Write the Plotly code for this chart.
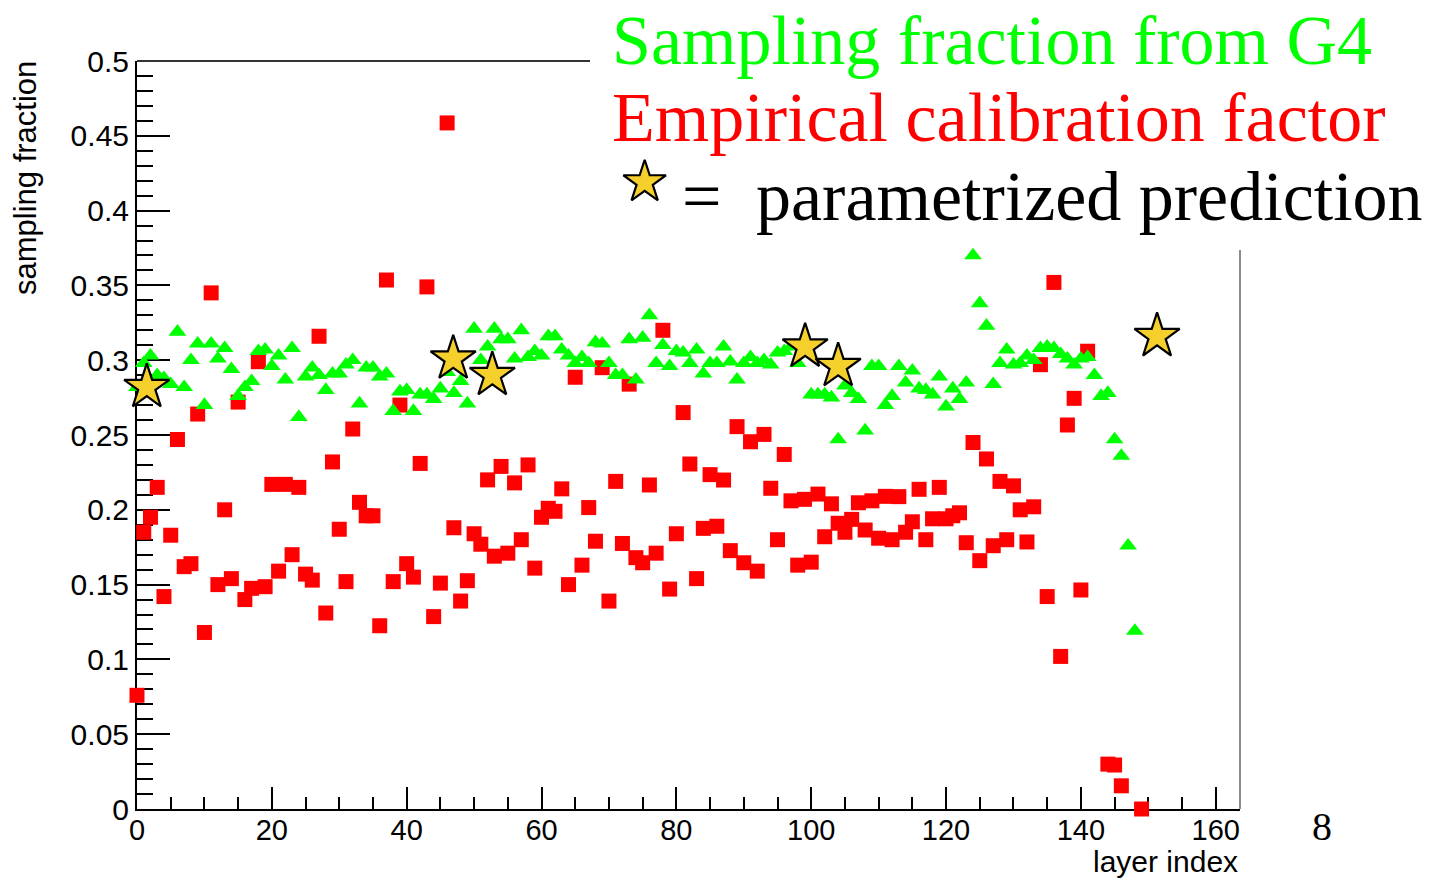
import plotly.graph_objects as go

# ---------------- data ----------------
g4_layers = list(range(0, 149))
g4_fraction = [
    0.282, 0.298, 0.303, 0.290, 0.288, 0.284, 0.319, 0.282, 0.300, 0.311,
    0.270, 0.311, 0.301, 0.308, 0.294, 0.276, 0.282, 0.286, 0.306, 0.307,
    0.296, 0.303, 0.287, 0.308, 0.262, 0.289, 0.295, 0.290, 0.280, 0.291,
    0.291, 0.297, 0.300, 0.271, 0.295, 0.295, 0.289, 0.291, 0.266, 0.279,
    0.280, 0.266, 0.277, 0.277, 0.274, 0.281, 0.292, 0.278, 0.286, 0.271,
    0.321, 0.300, 0.309, 0.321, 0.314, 0.314, 0.301, 0.320, 0.302, 0.306,
    0.303, 0.316, 0.316, 0.307, 0.303, 0.298, 0.302, 0.298, 0.312, 0.311,
    0.298, 0.290, 0.290, 0.314, 0.287, 0.315, 0.330, 0.298, 0.310, 0.296,
    0.306, 0.305, 0.298, 0.307, 0.291, 0.298, 0.298, 0.309, 0.299, 0.287,
    0.298, 0.302, 0.298, 0.300, 0.297, 0.305, 0.306, 0.309, 0.298, 0.305,
    0.277, 0.277, 0.277, 0.275, 0.247, 0.283, 0.278, 0.274, 0.253, 0.296,
    0.296, 0.270, 0.276, 0.296, 0.285, 0.293, 0.281, 0.280, 0.277, 0.289,
    0.269, 0.281, 0.274, 0.285, 0.370, 0.338, 0.323, 0.284, 0.298, 0.307,
    0.297, 0.298, 0.303, 0.300, 0.308, 0.309, 0.308, 0.304, 0.301, 0.297,
    0.301, 0.302, 0.290, 0.276, 0.278, 0.247, 0.236, 0.176, 0.119,
]

calib_layers = list(range(0, 142)) + [144, 145, 146, 149]
calib_factor = [
    0.076, 0.185, 0.195, 0.215, 0.142, 0.183, 0.247, 0.162, 0.164, 0.264,
    0.118, 0.345, 0.150, 0.200, 0.154, 0.272, 0.140, 0.1475, 0.299, 0.1486,
    0.217, 0.159, 0.217, 0.170, 0.215, 0.157, 0.153, 0.316, 0.131, 0.232,
    0.187, 0.152, 0.254, 0.205, 0.196, 0.196, 0.1225, 0.3536, 0.152, 0.270,
    0.164, 0.155, 0.231, 0.349, 0.1286, 0.151, 0.4586, 0.188, 0.139, 0.1526,
    0.184, 0.177, 0.220, 0.169, 0.229, 0.171, 0.218, 0.180, 0.230, 0.161,
    0.195, 0.201, 0.199, 0.214, 0.150, 0.2886, 0.163, 0.2015, 0.179, 0.295,
    0.139, 0.219, 0.1775, 0.284, 0.168, 0.1646, 0.2166, 0.171, 0.320, 0.147,
    0.184, 0.265, 0.2306, 0.154, 0.1876, 0.2235, 0.189, 0.2199, 0.1727, 0.2556,
    0.1646, 0.2455, 0.159, 0.2504, 0.2144, 0.180, 0.237, 0.206, 0.163, 0.207,
    0.165, 0.2105, 0.182, 0.204, 0.191, 0.185, 0.1936, 0.2047, 0.1865, 0.206,
    0.181, 0.209, 0.180, 0.2088, 0.185, 0.192, 0.2137, 0.180, 0.194, 0.215,
    0.194, 0.196, 0.198, 0.178, 0.245, 0.166, 0.234, 0.176, 0.219, 0.180,
    0.216, 0.200, 0.1785, 0.202, 0.297, 0.142, 0.352, 0.102, 0.2567, 0.2745,
    0.1464, 0.306,
    0.030, 0.0294, 0.0155, 0.0,
]

pred_layers = [1.45, 46.9, 52.7, 99.1, 104.0, 151.3]
pred_values = [0.282, 0.301, 0.290, 0.309, 0.296, 0.316]

legend_lines = ["Sampling fraction from G4", "Empirical calibration factor",
                "parametrized prediction"]
x_ticks = [0, 20, 40, 60, 80, 100, 120, 140, 160]

# ---------------- figure ----------------
W, H = 1433, 878
ML, MR, MT, MB = 137, 193, 61, 69
PW, PH = W - ML - MR, H - MT - MB


def px(x):
    return (x - ML) / PW


def py(y):
    return (H - MB - y) / PH


GREEN = "#00ff00"
RED = "#ff0000"
STAR = "#f5cf2c"

fig = go.Figure()

fig.add_trace(go.Scatter(
    x=calib_layers, y=calib_factor, mode="markers", cliponaxis=False,
    marker=dict(symbol="square", size=15, color=RED, line=dict(width=0)),
    showlegend=False))

fig.add_trace(go.Scatter(
    x=g4_layers, y=g4_fraction, mode="markers", cliponaxis=False,
    marker=dict(symbol="triangle-up", size=15.5, color=GREEN, line=dict(width=0)),
    showlegend=False))

fig.add_trace(go.Scatter(
    x=pred_layers, y=pred_values, mode="markers", cliponaxis=False,
    marker=dict(symbol="star", size=34, color=STAR,
                line=dict(width=2.2, color="black")),
    showlegend=False))

# legend key star (drawn in the legend block area)
legend_star_xy = (75.3, 0.419)
fig.add_trace(go.Scatter(
    x=[legend_star_xy[0]], y=[legend_star_xy[1]], mode="markers", cliponaxis=False,
    marker=dict(symbol="star", size=32, color=STAR,
                line=dict(width=2.2, color="black")),
    showlegend=False, hoverinfo="skip"))

tickfont = dict(family="Liberation Sans, Arial, sans-serif", size=29, color="black")

fig.update_layout(
    width=W, height=H,
    margin=dict(l=ML, r=MR, t=MT, b=MB, pad=0),
    paper_bgcolor="white", plot_bgcolor="white",
    showlegend=False,
    xaxis=dict(
        range=[0, 163.6], showgrid=False, zeroline=False,
        showline=True, linecolor="black", linewidth=2,
        ticks="inside", ticklen=22, tickwidth=2, tickcolor="black",
        tickmode="array", tickvals=x_ticks, ticktext=[str(v) for v in x_ticks],
        minor=dict(dtick=5, tick0=0, ticks="inside", ticklen=12,
                   tickwidth=2, tickcolor="black"),
        tickfont=tickfont, layer="below traces",
        ticklabelstandoff=-6,
    ),
    yaxis=dict(
        range=[0, 0.5], showgrid=False, zeroline=False,
        showline=True, linecolor="black", linewidth=2,
        ticks="inside", ticklen=33, tickwidth=2, tickcolor="black",
        tick0=0, dtick=0.05,
        minor=dict(dtick=0.01, tick0=0, ticks="inside", ticklen=16,
                   tickwidth=2, tickcolor="black"),
        tickfont=dict(family="Liberation Sans, Arial, sans-serif", size=30,
                      color="black"),
        layer="below traces",
    ),
)

# partial frame: top line (left part only) and right line (lower part only)
fig.add_shape(type="line", xref="paper", yref="paper",
              x0=0, x1=px(590), y0=1, y1=1,
              line=dict(color="#333333", width=2))
fig.add_shape(type="line", xref="paper", yref="paper",
              x0=1, x1=1, y0=0, y1=py(250),
              line=dict(color="#666666", width=1.5))

serif = "Liberation Serif, Times New Roman, serif"
sans = "Liberation Sans, Arial, sans-serif"

fig.add_annotation(x=px(610), y=py(40), xref="paper", yref="paper",
                   text=legend_lines[0], showarrow=False,
                   xanchor="left", yanchor="middle",
                   font=dict(family=serif, size=70, color=GREEN))
fig.add_annotation(x=px(610), y=py(118), xref="paper", yref="paper",
                   text=legend_lines[1], showarrow=False,
                   xanchor="left", yanchor="middle",
                   font=dict(family=serif, size=70, color=RED))
fig.add_annotation(x=px(701), y=py(197), xref="paper", yref="paper",
                   text="=", showarrow=False,
                   xanchor="center", yanchor="middle",
                   font=dict(family=serif, size=70, color="black"))
fig.add_annotation(x=px(754), y=py(197), xref="paper", yref="paper",
                   text=legend_lines[2], showarrow=False,
                   xanchor="left", yanchor="middle",
                   font=dict(family=serif, size=70, color="black"))

# axis titles (ROOT style, at the axis ends)
fig.add_annotation(x=px(26), y=py(178), xref="paper", yref="paper",
                   text="sampling fraction", showarrow=False, textangle=-90,
                   xanchor="center", yanchor="middle",
                   font=dict(family=sans, size=31, color="black"))
fig.add_annotation(x=1, y=py(861), xref="paper", yref="paper",
                   text="layer index", showarrow=False,
                   xanchor="right", yanchor="middle",
                   font=dict(family=sans, size=30, color="black"))

# slide number
fig.add_annotation(x=px(1322), y=py(826), xref="paper", yref="paper",
                   text="8", showarrow=False,
                   xanchor="center", yanchor="middle",
                   font=dict(family=serif, size=40, color="black"))

fig.write_html("out.html")
